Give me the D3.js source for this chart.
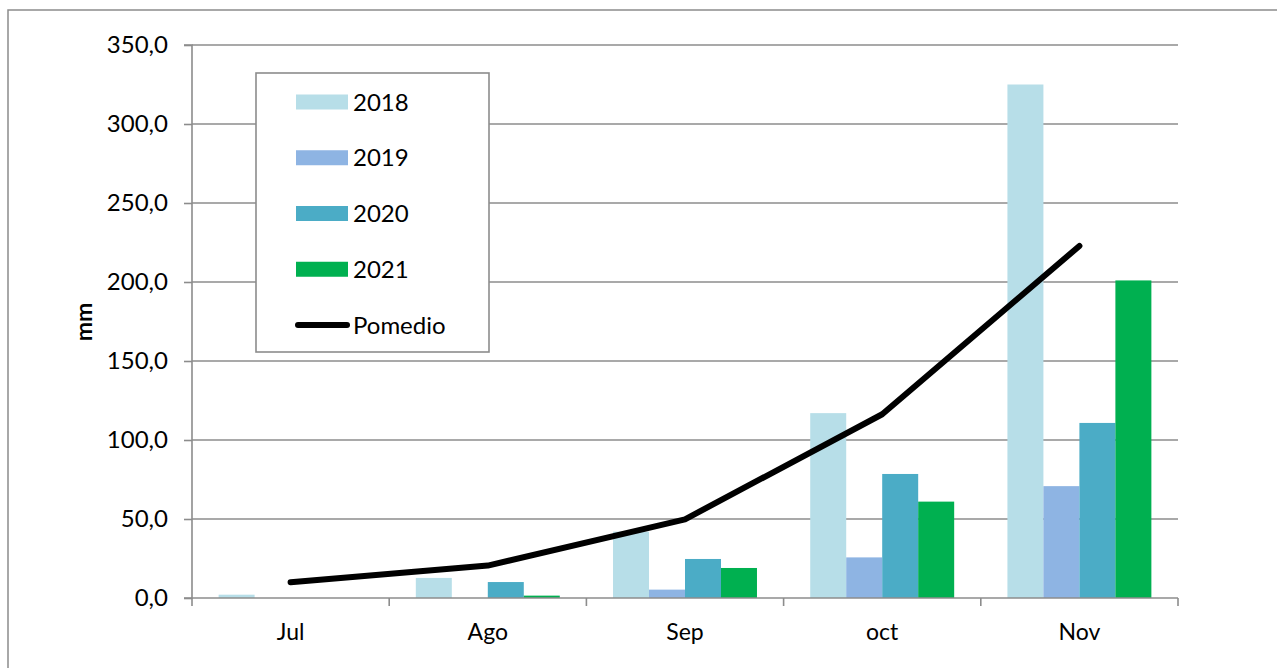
<!DOCTYPE html>
<html>
<head>
<meta charset="utf-8">
<script src="https://cdn.jsdelivr.net/npm/d3@7"></script>
<style>
  body { margin: 0; background: #fff; }
  text { font-family: Lato, "Liberation Sans", sans-serif; fill: #000; }
</style>
</head>
<body>
<div id="chart"></div>
<script>
// Data
const months = ["Jul", "Ago", "Sep", "oct", "Nov"];
const years = ["2018", "2019", "2020", "2021"];
const v2018 = [2.1, 12.7, 42.0, 117.0, 325.0];
const v2019 = [0, 0, 5.3, 25.7, 70.8];
const v2020 = [0, 10.1, 24.7, 78.5, 110.8];
const v2021 = [0, 1.5, 19.0, 61.0, 201.0];
const promedio = [10.0, 20.5, 49.8, 116.3, 222.8];
const yTicks = [0, 50, 100, 150, 200, 250, 300, 350];

const colors = { "2018": "#B7DEE8", "2019": "#8EB4E3", "2020": "#4BACC6", "2021": "#00B050" };
const seriesValues = { "2018": v2018, "2019": v2019, "2020": v2020, "2021": v2021 };

const W = 1277, H = 668;
const margin = { top: 45, right: 99, bottom: 70, left: 192 };
const width = W - margin.left - margin.right;
const height = H - margin.top - margin.bottom;

const svg = d3.select("#chart")
    .append("svg")
    .attr("width", W)
    .attr("height", H);

// outer chart border (right and bottom run off the picture)
svg.append("rect")
    .attr("x", 8).attr("y", 10)
    .attr("width", W + 20).attr("height", H + 20)
    .attr("fill", "none")
    .attr("stroke", "#8c8c8c")
    .attr("stroke-width", 1.5);

const g = svg.append("g")
    .attr("transform", `translate(${margin.left},${margin.top})`);

// Scales
const x0 = d3.scaleBand().domain(months).range([0, width]).padding(0);
const pad = x0.bandwidth() * 0.135;
const x1 = d3.scaleBand().domain(years).range([pad, x0.bandwidth() - pad]).padding(0);
const y = d3.scaleLinear().domain([0, 350]).range([height, 0]);

// Gridlines
g.append("g")
    .selectAll("line")
    .data(yTicks.filter(d => d > 0))
    .join("line")
    .attr("x1", 0).attr("x2", width)
    .attr("y1", d => y(d)).attr("y2", d => y(d))
    .attr("stroke", "#8c8c8c")
    .attr("stroke-width", 1.6);

// Bars
const rows = months.map((m, i) => ({ month: m, vals: years.map(yr => ({ year: yr, value: seriesValues[yr][i] })) }));

g.append("g")
    .selectAll("g")
    .data(rows)
    .join("g")
    .attr("transform", d => `translate(${x0(d.month)},0)`)
    .selectAll("rect")
    .data(d => d.vals)
    .join("rect")
    .attr("x", d => x1(d.year))
    .attr("y", d => y(d.value))
    .attr("width", x1.bandwidth())
    .attr("height", d => height - y(d.value))
    .attr("fill", d => colors[d.year]);

// Y axis
const yAxis = d3.axisLeft(y)
    .tickValues(yTicks)
    .tickSize(8)
    .tickPadding(16)
    .tickFormat(d => d3.format(".1f")(d).replace(".", ","));

const ya = g.append("g").call(yAxis);
ya.select(".domain").attr("stroke", "#8c8c8c").attr("stroke-width", 1.6).attr("d", `M-8,${height}H0V0H-8`);
ya.selectAll(".tick line").attr("stroke", "#8c8c8c").attr("stroke-width", 1.6);
ya.selectAll(".tick text").attr("font-size", 24).attr("font-family", "Lato, sans-serif");

// X axis
const xa = g.append("g").attr("transform", `translate(0,${height})`);
xa.append("line")
    .attr("x1", 0).attr("x2", width)
    .attr("stroke", "#8c8c8c").attr("stroke-width", 1.6);
const bounds = months.map(m => x0(m)).concat([width]);
xa.selectAll("line.tk")
    .data(bounds)
    .join("line")
    .attr("class", "tk")
    .attr("x1", d => d).attr("x2", d => d)
    .attr("y1", 0).attr("y2", 8)
    .attr("stroke", "#8c8c8c").attr("stroke-width", 1.6);
xa.selectAll("text")
    .data(months)
    .join("text")
    .attr("x", d => x0(d) + x0.bandwidth() / 2)
    .attr("y", 42)
    .attr("text-anchor", "middle")
    .attr("font-size", 23)
    .text(d => d);

// Line
const line = d3.line()
    .x((d, i) => x0(months[i]) + x0.bandwidth() / 2)
    .y(d => y(d));

g.append("path")
    .datum(promedio)
    .attr("d", line)
    .attr("fill", "none")
    .attr("stroke", "#000")
    .attr("stroke-width", 6)
    .attr("stroke-linecap", "round")
    .attr("stroke-linejoin", "round");

// Y label
svg.append("text")
    .attr("transform", "translate(92,322) rotate(-90)")
    .attr("text-anchor", "middle")
    .attr("font-size", 23)
    .attr("font-weight", "bold")
    .text("mm");

// Legend
const legend = svg.append("g");
legend.append("rect")
    .attr("x", 256).attr("y", 73)
    .attr("width", 233).attr("height", 279)
    .attr("fill", "#fff")
    .attr("stroke", "#8c8c8c")
    .attr("stroke-width", 1.6);

const legendItems = years.concat(["Pomedio"]);
const ly = d3.scalePoint().domain(legendItems).range([102, 325]);

legendItems.forEach(name => {
    const cy = ly(name);
    if (name === "Pomedio") {
        legend.append("line")
            .attr("x1", 298).attr("x2", 347)
            .attr("y1", cy).attr("y2", cy)
            .attr("stroke", "#000").attr("stroke-width", 6)
            .attr("stroke-linecap", "round");
    } else {
        legend.append("rect")
            .attr("x", 296).attr("y", cy - 7.5)
            .attr("width", 52).attr("height", 15)
            .attr("fill", colors[name]);
    }
    legend.append("text")
        .attr("x", 353).attr("y", cy)
        .attr("dy", "0.36em")
        .attr("font-size", 24)
        .text(name);
});
</script>
</body>
</html>
